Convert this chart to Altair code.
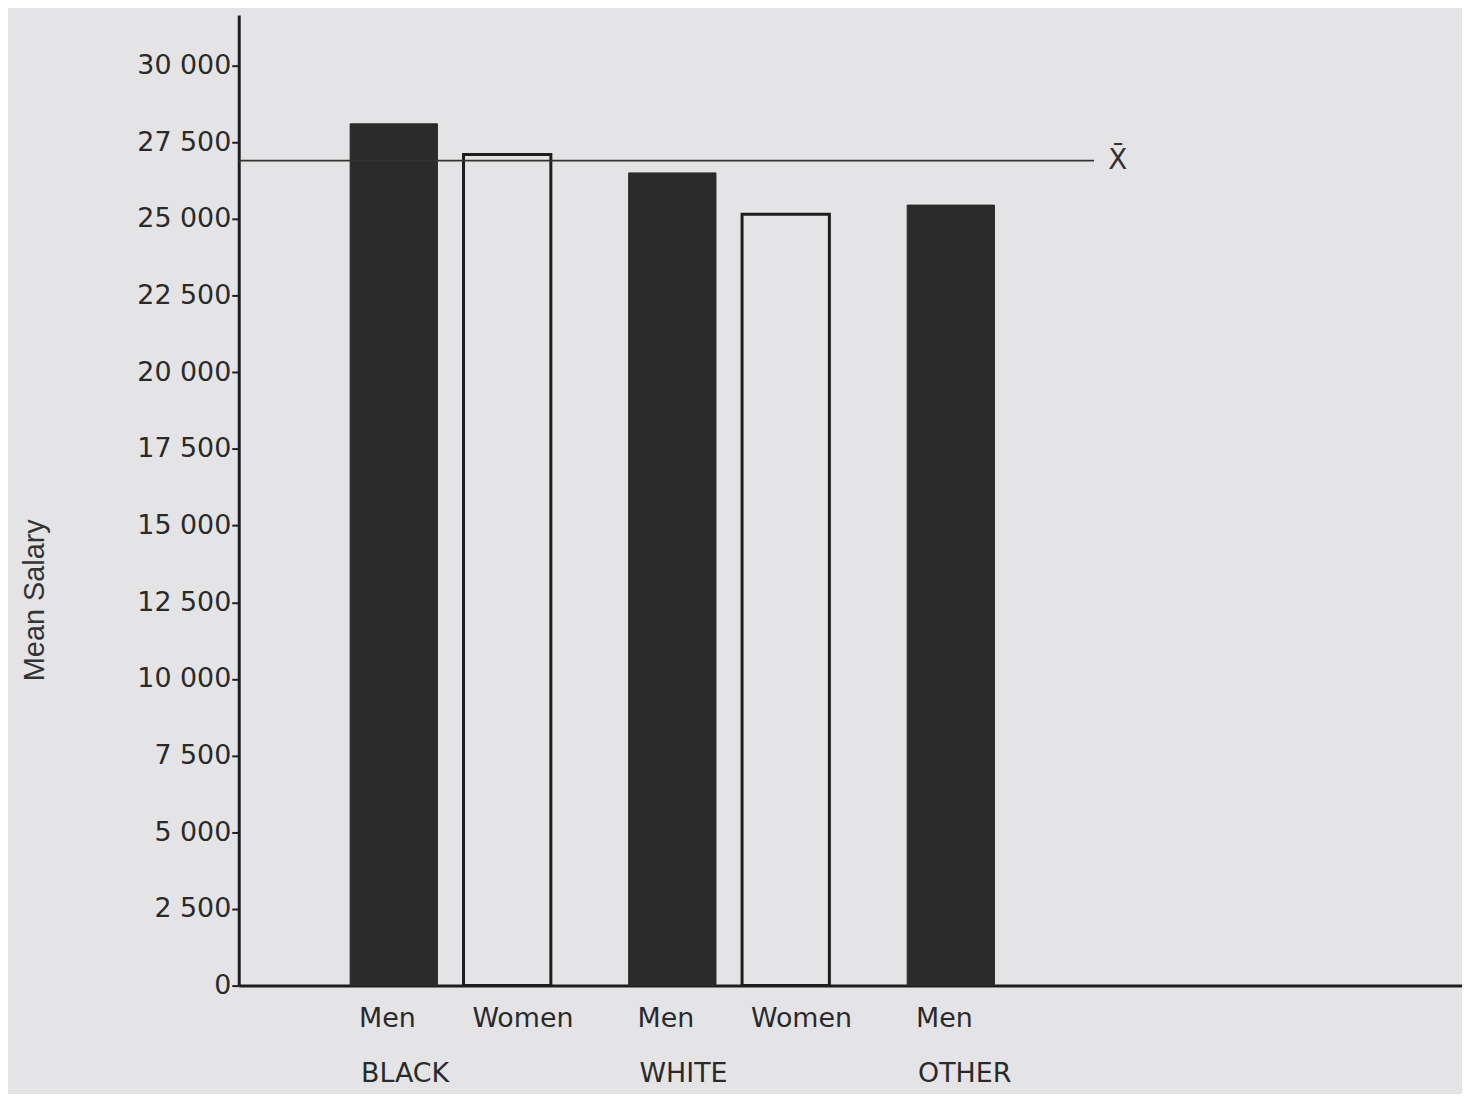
import altair as alt
import pandas as pd

# ---- data ----
groups = ["BLACK", "BLACK", "WHITE", "WHITE", "OTHER"]
sexes = ["Men", "Women", "Men", "Women", "Men"]
salaries = [28100, 27100, 26500, 25150, 25450]
mean_salary = 26900
group_order = ["BLACK", "WHITE", "OTHER"]
y_ticks = [0, 2500, 5000, 7500, 10000, 12500, 15000, 17500, 20000, 22500, 25000, 27500, 30000]

df = pd.DataFrame({"group": groups, "sex": sexes, "salary": salaries})
gdf = pd.DataFrame({"group": group_order, "sex": ["Men"] * len(group_order)})
mdf = pd.DataFrame({"mean": [mean_salary], "label": ["X\u0304"]})

BG = "#e4e4e6"
DARK = "#2b2b2b"
INK = "#1e1e1e"

x_enc = alt.X(
    "group:N",
    sort=group_order,
    scale=alt.Scale(domain=group_order, paddingInner=0, paddingOuter=0.696, align=0.187),
    axis=alt.Axis(labels=False, ticks=False, title=None, domainWidth=3, domainColor=INK),
)
xo_enc = alt.XOffset(
    "sex:N",
    scale=alt.Scale(domain=["Men", "Women"], paddingInner=0.23, paddingOuter=0.343),
)
y_enc = alt.Y(
    "salary:Q",
    scale=alt.Scale(domain=[0, 31650], nice=False, zero=True),
    axis=alt.Axis(
        values=y_ticks,
        labelExpr="replace(format(datum.value, ','), ',', ' ')",
        labelFont="DejaVu Sans",
        labelFontSize=27,
        labelColor="#2a2a2a",
        labelPadding=1,
        tickSize=7,
        tickWidth=2,
        tickColor=INK,
        domainWidth=3,
        domainColor=INK,
        grid=False,
        title="Mean Salary",
        titleFont="Liberation Sans",
        titleFontSize=29,
        titleFontWeight="normal",
        titleColor="#333333",
        titleAngle=270,
        titleX=-205,
        titleY=588,
        titleAlign="center",
        titleBaseline="middle",
    ),
)

base = alt.Chart(df)

men_bars = base.transform_filter(alt.datum.sex == "Men").mark_bar(
    color=DARK, stroke=DARK, strokeWidth=1
).encode(x=x_enc, xOffset=xo_enc, y=y_enc)

women_bars = base.transform_filter(alt.datum.sex == "Women").mark_bar(
    fill=BG, stroke=INK, strokeWidth=3
).encode(x=x_enc, xOffset=xo_enc, y=y_enc)

sex_labels = base.mark_text(
    align="left", baseline="top", dx=-35, font="DejaVu Sans", fontSize=27, color="#2a2a2a"
).encode(x=x_enc, xOffset=xo_enc, y=alt.value(997), text="sex:N")

group_labels = alt.Chart(gdf).mark_text(
    align="left", baseline="top", dx=-33, font="DejaVu Sans", fontSize=27, color="#2a2a2a"
).encode(x=x_enc, xOffset=xo_enc, y=alt.value(1052), text="group:N")

mean_rule = alt.Chart(mdf).mark_rule(color="#333333", strokeWidth=2).encode(
    y="mean:Q", x=alt.value(0), x2=alt.value(860)
)
mean_label = alt.Chart(mdf).mark_text(
    align="center", baseline="middle", font="DejaVu Sans", fontSize=28, color="#333333"
).encode(y="mean:Q", x=alt.value(884), text="label:N")

chart = (
    alt.layer(men_bars, women_bars, sex_labels, group_labels, mean_rule, mean_label)
    .properties(
        width=1230,
        height=976,
        autosize=alt.AutoSizeParams(type="none"),
        padding={"left": 232, "top": 4, "right": 0, "bottom": 106},
        background=BG,
    )
    .configure_view(stroke=None)
)

chart.save("out.html", embed_options={"renderer": "svg", "actions": False})
